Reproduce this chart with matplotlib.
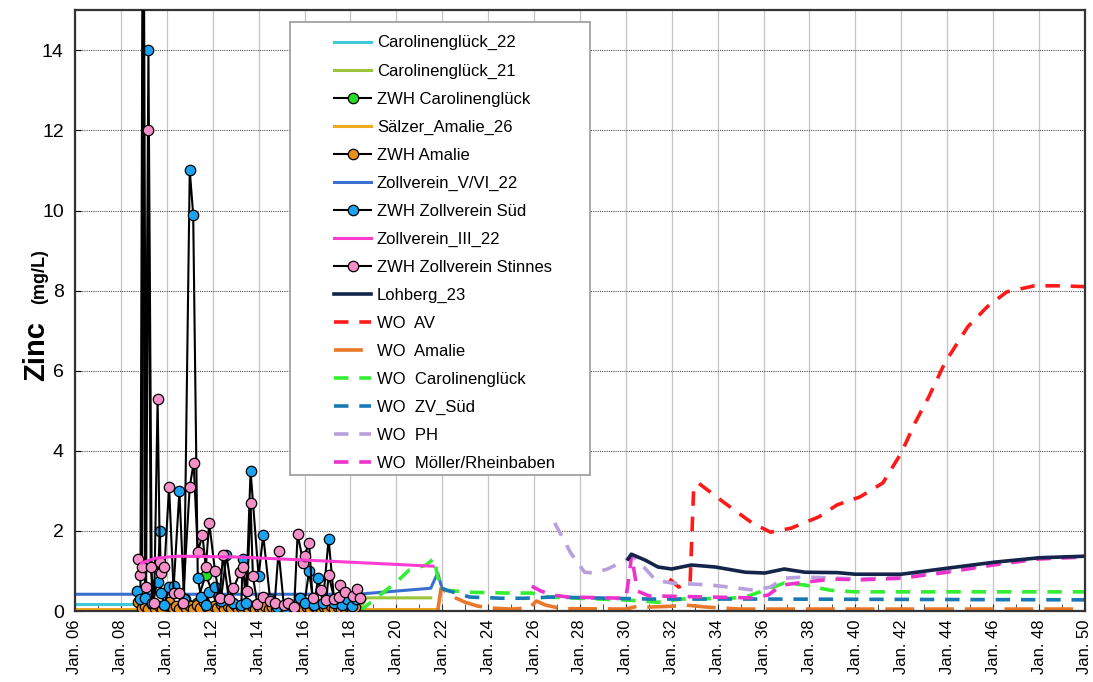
import matplotlib
matplotlib.use("Agg")
import matplotlib.pyplot as plt
from matplotlib.patches import Rectangle
from matplotlib.ticker import MultipleLocator

plt.rcParams['font.family'] = ['Liberation Sans', 'DejaVu Sans']

# --- model / measured series (x in decimal years, zinc in mg/L) ---
caro22_t = [2006.0, 2008.9]
caro22_v = [0.18, 0.18]

caro21_t = [2018.35, 2018.7, 2021.5]
caro21_v = [0.0, 0.33, 0.33]

zwh_caro_t = [2009.4, 2010.2, 2010.8, 2011.3, 2011.7, 2012.2, 2013.4, 2014.6, 2015.7, 2016.9, 2018.1]
zwh_caro_v = [0.1, 0.15, 0.3, 0.2, 0.9, 0.15, 0.1, 0.08, 0.1, 0.08, 0.1]

salzer_t = [2006.0, 2021.8]
salzer_v = [0.06, 0.06]

zwh_amalie_t = [2008.75, 2008.9, 2009.05, 2009.2, 2009.35, 2009.5, 2009.65, 2009.8, 2009.95,
                2010.1, 2010.25, 2010.4, 2010.55, 2010.7, 2010.85, 2011.0, 2011.15, 2011.3,
                2011.45, 2011.6, 2011.75, 2011.9, 2012.05, 2012.2, 2012.35, 2012.5, 2012.65,
                2012.8, 2012.95, 2013.1, 2013.25, 2013.4, 2013.55, 2013.7, 2013.85, 2014.0,
                2014.15, 2014.3, 2014.45, 2014.6, 2014.75, 2014.9, 2015.05, 2015.2, 2015.35,
                2015.5, 2015.65, 2015.8, 2015.95, 2016.1, 2016.25, 2016.4, 2016.55, 2016.7,
                2016.85, 2017.0, 2017.15, 2017.3, 2017.45, 2017.6, 2017.75, 2017.9, 2018.05, 2018.2]
zwh_amalie_v = [0.22, 0.08, 0.12, 0.06, 0.17, 0.07, 0.12, 0.05, 0.14, 0.22, 0.07, 0.12, 0.06, 0.17,
                0.07, 0.12, 0.05, 0.14, 0.07, 0.22, 0.1, 0.06, 0.12, 0.07, 0.17, 0.05, 0.12, 0.07,
                0.14, 0.06, 0.1, 0.17, 0.07, 0.12, 0.05, 0.1, 0.07, 0.12, 0.06, 0.09, 0.05, 0.07,
                0.12, 0.06, 0.1, 0.07, 0.05, 0.12, 0.07, 0.1, 0.06, 0.12, 0.07, 0.05, 0.1, 0.07,
                0.12, 0.06, 0.09, 0.05, 0.07, 0.12, 0.06, 0.1]

zv56_t = [2006.0, 2018.3, 2021.5, 2021.8, 2022.0]
zv56_v = [0.42, 0.42, 0.57, 0.95, 0.55]

zwh_sud_t = [2008.7, 2008.85, 2008.95, 2009.05, 2009.2, 2009.35, 2009.6, 2009.7, 2009.75, 2009.9,
             2010.1, 2010.3, 2010.55, 2010.75, 2011.0, 2011.15, 2011.35, 2011.5, 2011.7, 2011.85,
             2012.1, 2012.35, 2012.6, 2012.9, 2013.25, 2013.3, 2013.45, 2013.65, 2014.0, 2014.2,
             2014.5, 2014.8, 2015.2, 2015.5, 2015.8, 2016.0, 2016.2, 2016.4, 2016.6, 2016.8,
             2017.05, 2017.3, 2017.65, 2017.85, 2018.05, 2018.25]
zwh_sud_v = [0.5, 0.3, 18.0, 0.33, 14.0, 0.2, 0.72, 2.0, 0.45, 0.15,
             0.6, 0.62, 3.0, 0.3, 11.0, 9.9, 0.82, 0.35, 0.15, 0.47,
             0.6, 0.25, 1.4, 0.2, 0.15, 1.3, 0.2, 3.5, 0.87, 1.9,
             0.3, 0.1, 0.08, 0.1, 0.32, 0.2, 1.0, 0.15, 0.82, 0.2,
             1.8, 0.2, 0.15, 0.3, 0.12, 0.3]

zv3_t = [2008.9, 2009.5, 2010.5, 2013.0, 2015.0, 2018.0, 2021.6]
zv3_v = [1.2, 1.32, 1.37, 1.35, 1.3, 1.22, 1.12]

zwh_stinnes_t = [2008.75, 2008.85, 2008.92, 2009.0, 2009.1, 2009.2, 2009.3, 2009.45, 2009.6, 2009.7,
                 2009.75, 2009.9, 2010.1, 2010.3, 2010.55, 2010.7, 2011.0, 2011.17, 2011.35, 2011.55,
                 2011.7, 2011.85, 2012.1, 2012.3, 2012.45, 2012.7, 2012.9, 2013.2, 2013.3, 2013.5,
                 2013.65, 2013.75, 2013.95, 2014.2, 2014.5, 2014.7, 2014.87, 2015.1, 2015.3, 2015.55,
                 2015.7, 2015.95, 2016.0, 2016.2, 2016.35, 2016.7, 2016.95, 2017.05, 2017.3, 2017.5,
                 2017.55, 2017.75, 2018.1, 2018.3, 2018.4]
zwh_stinnes_v = [1.3, 0.9, 1.1, 17.0, 0.6, 12.0, 1.1, 0.2, 5.3, 1.22,
                 0.95, 1.1, 3.1, 0.45, 0.45, 0.2, 3.1, 3.7, 1.47, 1.9,
                 1.1, 2.2, 1.0, 0.33, 1.4, 0.3, 0.57, 0.97, 1.1, 0.5,
                 2.7, 0.87, 0.17, 0.35, 0.25, 0.2, 1.5, 0.15, 0.2, 0.1,
                 1.92, 1.2, 1.37, 1.7, 0.32, 0.52, 0.27, 0.9, 0.3, 0.35,
                 0.65, 0.47, 0.38, 0.55, 0.33]

lohberg_t = [2030.1, 2030.24, 2030.85, 2031.4, 2032.0, 2032.85, 2033.9, 2035.2, 2036.06, 2036.9,
             2037.8, 2039.2, 2040.0, 2042.0, 2044.0, 2046.05, 2048.0, 2050.0]
lohberg_v = [1.3, 1.42, 1.27, 1.1, 1.05, 1.15, 1.1, 0.97, 0.95, 1.05,
             0.97, 0.96, 0.92, 0.92, 1.07, 1.22, 1.33, 1.37]

wo_av_t = [2031.9, 2032.3, 2032.8, 2032.95, 2033.15, 2034.3, 2035.5, 2036.3, 2037.2, 2038.4,
           2039.2, 2040.2, 2041.2, 2042.0, 2042.6, 2043.2, 2043.9, 2044.9, 2045.75, 2046.6,
           2047.8, 2048.9, 2050.0]
wo_av_v = [0.8, 0.6, 0.72, 3.0, 3.2, 2.7, 2.2, 1.97, 2.07, 2.35,
           2.65, 2.85, 3.2, 3.95, 4.7, 5.35, 6.2, 7.1, 7.6, 7.97,
           8.12, 8.12, 8.1]

wo_amalie_t = [2021.8, 2021.95, 2022.5, 2023.0, 2023.5, 2024.0, 2025.0, 2025.8, 2026.1, 2026.5,
               2027.2, 2030.0, 2030.5, 2031.0, 2032.0, 2032.6, 2033.5, 2035.0, 2050.0]
wo_amalie_v = [0.0, 0.57, 0.35, 0.22, 0.13, 0.08, 0.05, 0.08, 0.25, 0.15,
               0.06, 0.05, 0.12, 0.1, 0.12, 0.15, 0.1, 0.05, 0.05]

wo_caro_t = [2018.4, 2019.4, 2020.0, 2020.55, 2021.3, 2021.65, 2021.8, 2022.15, 2023.2, 2024.8,
             2025.9, 2026.6, 2030.2, 2031.4, 2032.4, 2034.6, 2035.3, 2036.3, 2036.9, 2037.8,
             2038.9, 2040.0, 2050.0]
wo_caro_v = [0.0, 0.45, 0.72, 1.02, 1.15, 1.32, 0.85, 0.52, 0.47, 0.45,
             0.45, 0.35, 0.27, 0.22, 0.3, 0.32, 0.37, 0.57, 0.7, 0.65,
             0.52, 0.48, 0.48]

wo_zv_t = [2021.95, 2022.2, 2023.2, 2024.6, 2025.6, 2026.8, 2031.0, 2036.0, 2050.0]
wo_zv_v = [0.58, 0.52, 0.35, 0.32, 0.32, 0.35, 0.3, 0.3, 0.28]

wo_ph_t = [2026.9, 2027.6, 2028.2, 2028.6, 2029.2, 2030.0, 2030.25, 2030.7, 2031.3, 2032.0,
           2033.7, 2034.9, 2035.6, 2036.3, 2036.9, 2037.8, 2039.2, 2040.2, 2042.0, 2044.0,
           2046.0, 2048.0, 2050.0]
wo_ph_v = [2.2, 1.45, 0.97, 0.95, 1.05, 1.27, 1.4, 1.15, 0.77, 0.7,
           0.65, 0.57, 0.52, 0.6, 0.82, 0.85, 0.82, 0.8, 0.84, 0.99,
           1.17, 1.33, 1.36]

wo_moeller_t = [2025.9, 2026.3, 2026.8, 2027.5, 2030.0, 2030.15, 2030.25, 2030.5, 2031.0, 2035.5,
                2036.2, 2036.8, 2037.8, 2039.0, 2040.2, 2042.0, 2044.0, 2046.0, 2048.0, 2050.0]
wo_moeller_v = [0.62, 0.5, 0.4, 0.35, 0.32, 0.9, 1.4, 0.5, 0.38, 0.33,
                0.4, 0.65, 0.72, 0.8, 0.78, 0.82, 0.97, 1.15, 1.3, 1.35]

tick_years = list(range(2006, 2051, 2))
tick_labels = ["Jan. %02d" % (y % 100) for y in tick_years]

fig = plt.figure(figsize=(10.93, 6.82), dpi=100)
ax = fig.add_axes([0.0686, 0.104, 0.9240, 0.881])

# gridlines
for y in range(2, 15, 2):
    ax.axhline(y, color='#555555', lw=0.8, ls=(0, (1, 1)), zorder=0.5)
for yr in tick_years:
    ax.axvline(yr, color='#c4c4c4', lw=0.9, zorder=0.4)

# simple lines
ax.plot(caro22_t, caro22_v, color='#3ec9d6', lw=2.2, label='Carolinenglück_22', zorder=2)
ax.plot(caro21_t, caro21_v, color='#9bc53d', lw=2.2, label='Carolinenglück_21', zorder=2)

marker_kw = dict(color='black', lw=1.5, marker='o', markersize=7.5,
                 markeredgecolor='black', markeredgewidth=0.9, zorder=3)

ax.plot(zwh_caro_t, zwh_caro_v, markerfacecolor='#22dd22',
        label='ZWH Carolinenglück', **marker_kw)
ax.plot(salzer_t, salzer_v, color='#f2a81d', lw=2.2, label='Sälzer_Amalie_26', zorder=2)
ax.plot(zwh_amalie_t, zwh_amalie_v, markerfacecolor='#e8901e',
        label='ZWH Amalie', **marker_kw)
ax.plot(zv56_t, zv56_v, color='#3a6fd0', lw=2.2, label='Zollverein_V/VI_22', zorder=2)
ax.plot(zwh_sud_t, zwh_sud_v, markerfacecolor='#1aa3f0',
        label='ZWH Zollverein Süd', **marker_kw)
ax.plot(zv3_t, zv3_v, color='#ff3cd0', lw=2.2, label='Zollverein_III_22', zorder=3.5)
ax.plot(zwh_stinnes_t, zwh_stinnes_v, markerfacecolor='#f48fc8',
        label='ZWH Zollverein Stinnes', **marker_kw)
ax.plot(lohberg_t, lohberg_v, color='#14244a', lw=2.6, label='Lohberg_23', zorder=2.5)

dash_kw = dict(lw=2.6, zorder=2)
ax.plot(wo_av_t, wo_av_v, color='#ff1a1a', dashes=(4, 3), label='WO  AV', **dash_kw)
ax.plot(wo_amalie_t, wo_amalie_v, color='#e8782a', dashes=(8, 3), label='WO  Amalie', **dash_kw)
ax.plot(wo_caro_t, wo_caro_v, color='#33ee33', dashes=(4, 3), label='WO  Carolinenglück', **dash_kw)
ax.plot(wo_zv_t, wo_zv_v, color='#1a78b4', dashes=(4, 3), label='WO  ZV_Süd', **dash_kw)
ax.plot(wo_ph_t, wo_ph_v, color='#b8a0dc', dashes=(4, 3), label='WO  PH', **dash_kw)
ax.plot(wo_moeller_t, wo_moeller_v, color='#ee33cc', dashes=(4, 3),
        label='WO  Möller/Rheinbaben', **dash_kw)

ax.set_xlim(2006, 2050)
ax.set_ylim(0, 15)
ax.set_xticks(tick_years)
ax.set_xticklabels(tick_labels, rotation=90, fontsize=12)
ax.xaxis.set_minor_locator(MultipleLocator(1))
ax.set_yticks(range(0, 15, 2))
ax.tick_params(axis='y', labelsize=14, direction='in', length=4, pad=8)
ax.tick_params(axis='x', which='both', direction='in', length=5, pad=6, color='#333333')
for s in ax.spines.values():
    s.set_color('#333333')
    s.set_linewidth(1.6)

fig.text(0.033, 0.485, 'Zinc', rotation=90, fontsize=21, fontweight='bold',
         ha='center', va='center')
fig.text(0.036, 0.595, '(mg/L)', rotation=90, fontsize=13, fontweight='bold',
         ha='center', va='center')

# legend box drawn separately so its padding can be set freely
ax.add_patch(Rectangle((290 / 1093, 1 - 475 / 682), 300 / 1093, 453 / 682,
                       transform=fig.transFigure, facecolor='white',
                       edgecolor='#9a9a9a', lw=1.2, zorder=4))
leg = ax.legend(loc='upper left', bbox_to_anchor=(326 / 1093, 1 - 27 / 682),
                bbox_transform=fig.transFigure, frameon=False, fontsize=12,
                borderpad=0, handlelength=2.2, handletextpad=0.35,
                labelspacing=0.78)
leg.set_zorder(5)

fig.savefig('out.png', dpi=100)
